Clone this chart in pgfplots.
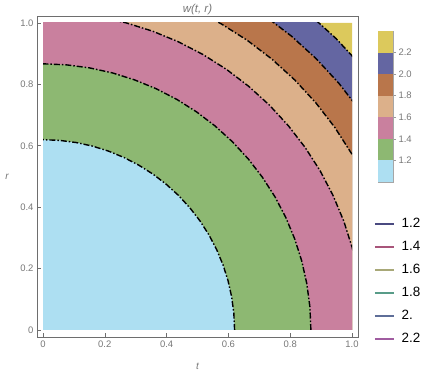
\documentclass[border=0pt]{standalone}
\usepackage{pgfplots}
\usepackage{pgfplotstable}
\pgfplotsset{compat=1.18}
\usepackage{fontspec}
\setmainfont{Liberation Sans}
\definecolor{cLB}{HTML}{ADDFF2}
\definecolor{cGR}{HTML}{8DB872}
\definecolor{cPK}{HTML}{C9809E}
\definecolor{cTN}{HTML}{DCB08A}
\definecolor{cBR}{HTML}{B9764B}
\definecolor{cBL}{HTML}{6466A2}
\definecolor{cYE}{HTML}{DCC95C}
\definecolor{lA}{HTML}{4A4A80}
\definecolor{lB}{HTML}{A8557A}
\definecolor{lC}{HTML}{A8A878}
\definecolor{lD}{HTML}{589C88}
\definecolor{lE}{HTML}{5E6E98}
\definecolor{lF}{HTML}{A05CA0}
\definecolor{tickgray}{HTML}{777777}
\definecolor{framegray}{HTML}{6E6E6E}

% contour 1.2
\pgfplotstableread{
x y
0.6200 0
0.6176 0.0540
0.6106 0.1077
0.5989 0.1605
0.5826 0.2121
0.5619 0.2620
0.5369 0.3100
0.5079 0.3556
0.4749 0.3985
0.4384 0.4384
0.3985 0.4749
0.3556 0.5079
0.3100 0.5369
0.2620 0.5619
0.2121 0.5826
0.1605 0.5989
0.1077 0.6106
0.0540 0.6176
0 0.6200
}\cA
% contour 1.4
\pgfplotstableread{
x y
0.867 0
0.8637 0.0756
0.8538 0.1506
0.8375 0.2244
0.8147 0.2965
0.7858 0.3664
0.7509 0.4335
0.7102 0.4973
0.6642 0.5573
0.6131 0.6131
0.5573 0.6642
0.4973 0.7102
0.4335 0.7509
0.3664 0.7858
0.2965 0.8147
0.2244 0.8375
0.1506 0.8538
0.0756 0.8637
0 0.867
}\cB
% contour 1.6
\pgfplotstableread{
x y
1.036 0
1.0321 0.0903
1.0203 0.1799
1.0007 0.2681
0.9735 0.3543
0.9389 0.4378
0.8972 0.518
0.8486 0.5942
0.7936 0.6659
0.7326 0.7326
0.6659 0.7936
0.5942 0.8486
0.518 0.8972
0.4378 0.9389
0.3543 0.9735
0.2681 1.0007
0.1799 1.0203
0.0903 1.0321
0 1.036
}\cC
% contour 1.8
\pgfplotstableread{
x y
1.152 0
1.1476 0.1004
1.1345 0.2000
1.1128 0.2982
1.0825 0.3940
1.0441 0.4869
0.9977 0.576
0.9437 0.6608
0.8825 0.7405
0.8146 0.8146
0.7405 0.8825
0.6608 0.9437
0.576 0.9977
0.4869 1.0441
0.3940 1.0825
0.2982 1.1128
0.2000 1.1345
0.1004 1.1476
0 1.152
}\cD
% contour 2.0
\pgfplotstableread{
x y
1.25 0
1.2452 0.1090
1.2310 0.2171
1.2074 0.3235
1.1746 0.4275
1.1329 0.5283
1.0825 0.625
1.0239 0.7170
0.9576 0.8035
0.8839 0.8839
0.8035 0.9576
0.7170 1.0239
0.625 1.0825
0.5283 1.1329
0.4275 1.1746
0.3235 1.2074
0.2171 1.2310
0.1090 1.2452
0 1.25
}\cE
% contour 2.2
\pgfplotstableread{
x y
1.342 0
1.3369 0.1170
1.3216 0.2330
1.2963 0.3473
1.2611 0.4590
1.2163 0.5672
1.1622 0.6710
1.0993 0.7697
1.0280 0.8626
0.9489 0.9489
0.8626 1.0280
0.7697 1.0993
0.6710 1.1622
0.5672 1.2163
0.4590 1.2611
0.3473 1.2963
0.2330 1.3216
0.1170 1.3369
0 1.342
}\cF

\begin{document}
\begin{tikzpicture}[x=1bp,y=1bp]
\path[use as bounding box] (0,0) rectangle (424,374);

% ---- filled contour data ----
\begin{axis}[at={(43bp,44bp)}, anchor=south west, scale only axis,
  width=309bp, height=307bp, xmin=0, xmax=1, ymin=0, ymax=1,
  hide axis, clip=true]
\addplot[draw=none, fill=cYE] coordinates {(0,0) (1,0) (1,1) (0,1)} \closedcycle;
\addplot[draw=none, fill=cBL] table {\cF} \closedcycle;
\addplot[draw=none, fill=cBR] table {\cE} \closedcycle;
\addplot[draw=none, fill=cTN] table {\cD} \closedcycle;
\addplot[draw=none, fill=cPK] table {\cC} \closedcycle;
\addplot[draw=none, fill=cGR] table {\cB} \closedcycle;
\addplot[draw=none, fill=cLB] table {\cA} \closedcycle;
\pgfplotsset{cl/.style={black, line width=1.4bp, dash pattern=on 6bp off 2bp on 1.5bp off 2bp, mark=none}}
\addplot[cl] table {\cA};
\addplot[cl] table {\cB};
\addplot[cl] table {\cC};
\addplot[cl] table {\cD};
\addplot[cl] table {\cE};
\addplot[cl] table {\cF};
\end{axis}

% ---- frame, ticks, labels, legend ----
\begin{axis}[at={(37bp,37bp)}, anchor=south west, scale only axis,
  width=321bp, height=321bp,
  xmin=-0.01942, xmax=1.01942, ymin=-0.0228, ymax=1.0228,
  axis line style={framegray, line width=0.7bp},
  xtick={0,0.2,0.4,0.6,0.8,1}, xticklabels={0,0.2,0.4,0.6,0.8,1.0},
  ytick={0,0.2,0.4,0.6,0.8,1}, yticklabels={0,0.2,0.4,0.6,0.8,1.0},
  xtick pos=bottom, ytick pos=left, tick align=inside,
  major tick length=4bp, minor tick num=0,
  tick style={framegray, line width=0.6bp},
  ticklabel style={font=\fontsize{9.5}{11}\selectfont, text=tickgray},
  /pgf/number format/assume math mode=true,
  every axis title shift=0pt,
  title={\itshape w(t, r)},
  title style={font=\fontsize{11.5}{13}\selectfont, text=tickgray, at={(0.5,1)}, anchor=base, yshift=3.5bp, inner sep=0pt},
  xlabel={\itshape t}, ylabel={\itshape r},
  xlabel style={font=\fontsize{10}{12}\selectfont, text=tickgray, at={(axis description cs:0.5,-0.09)}, anchor=center},
  ylabel style={font=\fontsize{10}{12}\selectfont, text=tickgray, at={(axis description cs:-0.093,0.498)}, anchor=center, rotate=-90},
  legend style={at={(1.0498,0.3723)}, anchor=north west, draw=none, fill=none,
    inner sep=0pt, row sep=10bp, column sep=7bp,
    nodes={inner sep=0pt, text height=10bp, text depth=3bp, font=\fontsize{13.5}{15}\selectfont, text=black}},
  legend cell align=left,
  legend image code/.code={\draw[#1, line width=1.5bp] (0bp,0bp) -- (19bp,0bp);},
]
\addlegendimage{lA}
\addlegendimage{lB}
\addlegendimage{lC}
\addlegendimage{lD}
\addlegendimage{lE}
\addlegendimage{lF}
\legend{1.2,1.4,1.6,1.8,2.,2.2}
\end{axis}

% ---- colour bar ----
\begin{axis}[at={(378bp,192bp)}, anchor=south west, scale only axis,
  width=15bp, height=151bp, xmin=0, xmax=1, ymin=1.0, ymax=2.4,
  axis line style={gray!70, line width=0.5bp},
  xtick=\empty, ytick={1.2,1.4,1.6,1.8,2.0,2.2},
  yticklabels={1.2,1.4,1.6,1.8,2.0,2.2},
  ytick pos=right, yticklabel pos=right, tick align=outside,
  major tick length=3bp, tick style={gray!80, line width=0.5bp},
  ticklabel style={font=\fontsize{9.5}{11}\selectfont, text=tickgray},
  yticklabel style={xshift=-1bp},
  /pgf/number format/assume math mode=true]
\addplot[draw=none, fill=cLB] coordinates {(0,1.0) (1,1.0) (1,1.2) (0,1.2)};
\addplot[draw=none, fill=cGR] coordinates {(0,1.2) (1,1.2) (1,1.4) (0,1.4)};
\addplot[draw=none, fill=cPK] coordinates {(0,1.4) (1,1.4) (1,1.6) (0,1.6)};
\addplot[draw=none, fill=cTN] coordinates {(0,1.6) (1,1.6) (1,1.8) (0,1.8)};
\addplot[draw=none, fill=cBR] coordinates {(0,1.8) (1,1.8) (1,2.0) (0,2.0)};
\addplot[draw=none, fill=cBL] coordinates {(0,2.0) (1,2.0) (1,2.2) (0,2.2)};
\addplot[draw=none, fill=cYE] coordinates {(0,2.2) (1,2.2) (1,2.4) (0,2.4)};
\end{axis}
\end{tikzpicture}
\end{document}
